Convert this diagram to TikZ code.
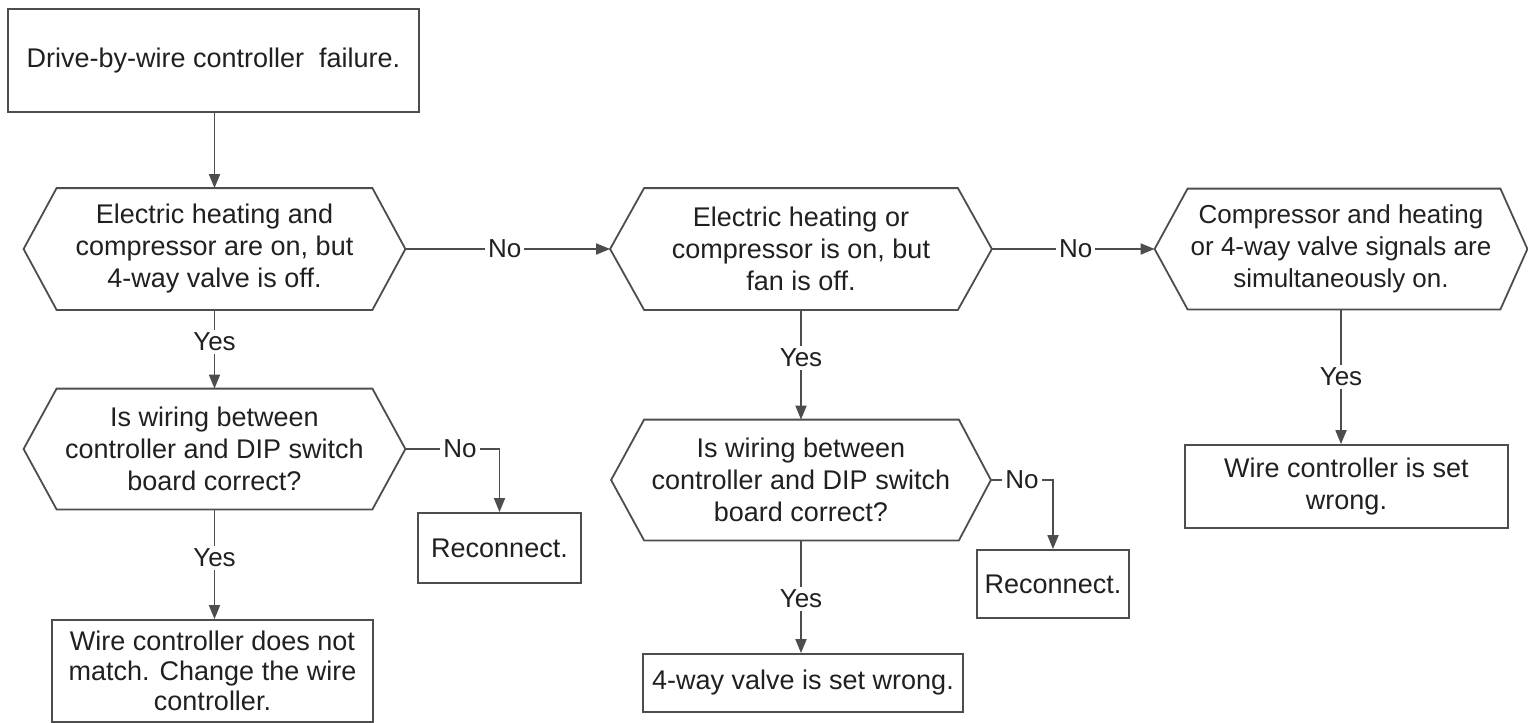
\documentclass[tikz,border=0pt]{standalone}
\usepackage{fontspec}
\setmainfont{Liberation Sans}
\usetikzlibrary{arrows.meta}
\definecolor{linec}{HTML}{4d4d4d}
\definecolor{textc}{HTML}{202020}
\begin{document}
\begin{tikzpicture}[x=0.5pt,y=-0.5pt,
  every node/.style={text=textc, font=\fontsize{13.5pt}{16pt}\selectfont},
  framebox/.style={draw=linec, line width=0.9pt, inner sep=0pt},
  boxnode/.style={framebox, align=center},
  hexnode/.style={align=center, inner sep=0pt, minimum width=190.5pt, minimum height=60.5pt},
  hexline/.style={draw=linec, line width=0.9pt, line join=miter},
  conn/.style={draw=linec, line width=0.9pt, -{Triangle[length=7pt,width=5.5pt]}},
  lbl/.style={fill=white, inner sep=1.5pt, font=\fontsize{13pt}{15pt}\selectfont}
]
\useasboundingbox (0,0) rectangle (1528,723);

% nodes
\node[boxnode, minimum width=205.5pt, minimum height=51.5pt] (start) at (213.5,60.5) {Drive-by-wire controller\ \ failure.};
\node[hexnode] (h1) at (214.5,249) {Electric heating and\\compressor are on, but\\4-way valve is off.};
\node[hexnode, minimum height=60pt] (h3) at (214.5,449) {Is wiring between\\controller and DIP switch\\board correct?};
\node[hexnode] (h2) at (801,249) {Electric heating or\\compressor is on, but\\fan is off.};
\node[hexnode, minimum width=189.5pt, minimum height=60pt] (h4) at (801,480) {Is wiring between\\controller and DIP switch\\board correct?};
\node[hexnode, minimum width=186pt, minimum height=60pt, font=\fontsize{13pt}{16pt}\selectfont] (h5) at (1341,249) {Compressor and heating\\or 4-way valve signals are\\simultaneously on.};

\node[boxnode, minimum width=81.5pt, minimum height=35pt] (r1) at (499.5,548) {Reconnect.};
\node[boxnode, minimum width=76pt, minimum height=34pt] (r2) at (1053,584) {Reconnect.};
\node[boxnode, minimum width=160.5pt, minimum height=51pt, font=\fontsize{13.5pt}{15pt}\selectfont] (w1) at (212.5,671) {Wire controller does not\\match. Change the wire\\controller.};
\node[framebox, minimum width=160pt, minimum height=29pt] (v) at (803,683) {4-way valve is set wrong.\hspace{6pt}};
\node[boxnode, minimum width=161.5pt, minimum height=41.5pt] (w2) at (1346.5,486.5) {Wire controller is set\\wrong.};

% hexagon outlines
\foreach \n/\l/\r in {h1/16.5/16.5, h2/17/17, h3/16.5/16.5, h4/16.5/16, h5/16.5/13.5}
  \draw[hexline] (\n.west) -- ([xshift=\l pt]\n.north west) -- ([xshift=-\r pt]\n.north east) -- (\n.east) -- ([xshift=-\r pt]\n.south east) -- ([xshift=\l pt]\n.south west) -- cycle;

% connectors
\draw[conn] (start.south -| h1.north) -- (h1.north);
\draw[conn] (h1.east) -- node[lbl,pos=0.485]{No} (h2.west);
\draw[conn] (h2.east) -- node[lbl,pos=0.515]{No} (h5.west);
\draw[conn] (h1.south) -- node[lbl,pos=0.41]{Yes} (h3.north);
\draw[conn] (h3.south) -- node[lbl,pos=0.44]{Yes} (h3.south |- w1.north);
\draw[conn] (h3.east) -- node[lbl,pos=0.58]{No} (h3.east -| r1.north) -- (r1.north);
\draw[conn] (h2.south) -- node[lbl,pos=0.44]{Yes} (h2.south |- h4.north);
\draw[conn] (h4.east) -- node[lbl,pos=0.5]{No} (h4.east -| r2.north) -- (r2.north);
\draw[conn] (h4.south) -- node[lbl,pos=0.52]{Yes} (h4.south |- v.north);
\draw[conn] (h5.south) -- node[lbl,pos=0.5]{Yes} (h5.south |- w2.north);
\end{tikzpicture}
\end{document}
